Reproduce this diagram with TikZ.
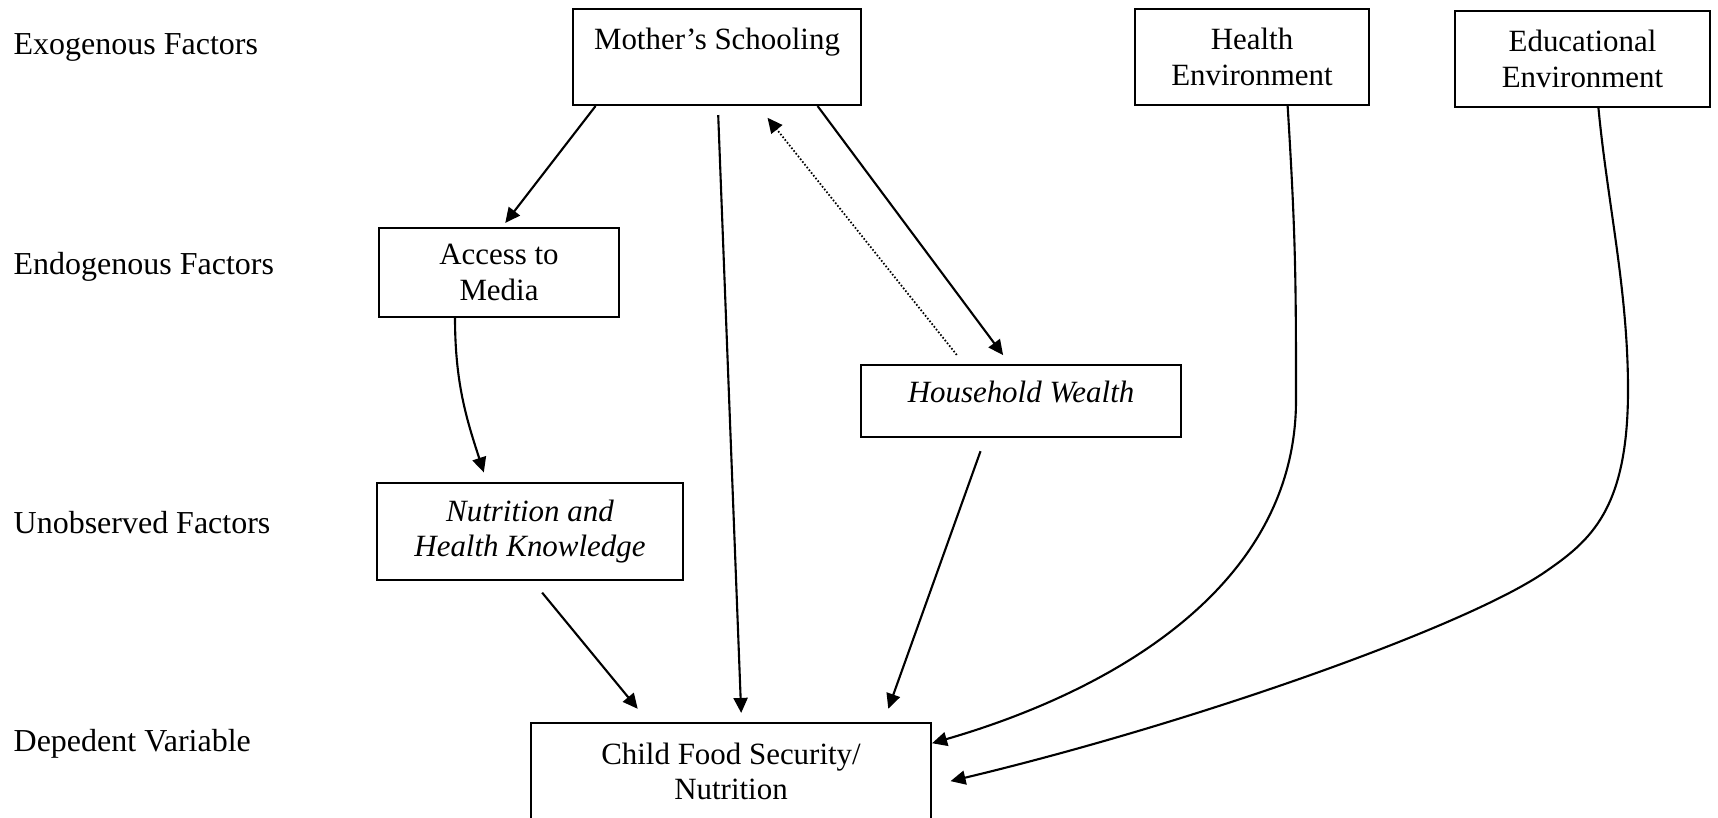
\documentclass[tikz,border=0pt]{standalone}
\usepackage{fontspec}
\setmainfont{Liberation Serif}
\usetikzlibrary{arrows.meta}
\tikzset{
  box/.style={draw,line width=0.6pt,align=center,inner sep=0pt},
  itbox/.style={box,font=\fontsize{8.8}{10}\selectfont\itshape},
  lbl/.style={anchor=west,inner sep=0pt,font=\fontsize{9.1}{11}\selectfont},
  arr/.style={->,line width=0.6pt},
  dots/.style={line width=0.5pt,dash pattern=on 0.45pt off 0.55pt}
}
\begin{document}
\begin{tikzpicture}[>={Triangle[length=1.5mm,width=1.4mm]},font=\fontsize{8.8}{10}\selectfont]
                \useasboundingbox (0,0) rectangle (17.18,-8.18);
                \node[lbl] (exo) at (0.13,-0.47) {Exogenous Factors};
                \node[lbl] (endo) at (0.13,-2.67) {Endogenous Factors};
                \node[lbl] (unobs) at (0.13,-5.23) {Unobserved Factors};
                \node[lbl] (dep) at (0.13,-7.44) {Depedent Variable};
                \node[box,minimum width=2.88cm,minimum height=0.96cm,text height=0.21cm,text depth=0.35cm] (ms) at (7.17,-0.57) {Mother’s Schooling};
                \node[box,minimum width=2.34cm,minimum height=0.96cm] (he) at (12.52,-0.57) {Health\\Environment};
                \node[box,minimum width=2.55cm,minimum height=0.96cm] (ee) at (15.825,-0.59) {Educational\\Environment};
                \node[box,minimum width=2.40cm,minimum height=0.89cm] (am) at (4.99,-2.725) {Access to\\Media};
                \node[itbox,minimum width=3.20cm,minimum height=0.72cm,text height=0.21cm,text depth=0.17cm] (hw) at (10.21,-4.01) {Household Wealth};
                \node[itbox,minimum width=3.06cm,minimum height=0.97cm] (nk) at (5.30,-5.315) {Nutrition and\\Health Knowledge};
                \node[box,minimum width=4.00cm,minimum height=0.97cm] (cf) at (7.31,-7.715) {Child Food Security/\\Nutrition};
                \draw[arr,shorten >=0.5mm] (ms.202)--(am.86);
                \draw[arr,shorten <=0.9mm,shorten >=0.9mm] (ms.-89)--(cf.78);
                \draw[arr,shorten >=1.1mm] (ms.-26.6)--(hw.107);
                \draw[arr,dots,shorten <=1.15mm,shorten >=1.5mm] (hw.147.3)--(ms.-50.9);
                \draw[arr,shorten >=1mm] (am.-134) to[out=-90,in=108] (nk.131);
                \draw[arr,shorten <=1.5mm,shorten >=1.7mm] (nk.-87.6)--(cf.149.4);
                \draw[arr,shorten <=1.4mm,shorten >=1.4mm] (hw.-134.2)--(cf.18.3);
                \draw[arr] (he.-54.7) .. controls +(0.08,-1.3) and +(0,1.2) .. (12.96,-4.0) .. controls +(0,-1.9) and +(1.73,0.5) .. (cf.8);
                \draw[arr,shorten >=1.9mm] (ee.-72.1) .. controls +(0.09,-0.95) and +(0,1.0) .. (16.28,-3.9) .. controls +(0,-1.2) and +(0.45,0.31) .. (15.45,-5.72) .. controls +(-0.8,-0.55) and +(2.6,0.62) .. (cf.-4.4);
            \end{tikzpicture}
\end{document}
